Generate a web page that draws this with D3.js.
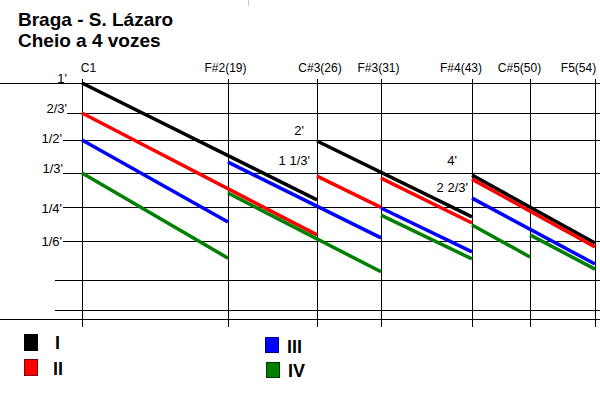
<!DOCTYPE html>
<html>
<head>
<meta charset="utf-8">
<script src="https://cdn.jsdelivr.net/npm/d3@7"></script>
<style>
  html, body { margin: 0; padding: 0; background: #fff; }
  svg { display: block; font-family: "Liberation Sans", Arial, sans-serif; }
</style>
</head>
<body>
<svg id="chart" width="600" height="400"></svg>
<script>
// ---------------- DATA ----------------
const titleLines = ["Braga - S. Lázaro", "Cheio a 4 vozes"];

// breakpoints (note numbers) and their labels
const breakNotes = [1, 19, 26, 31, 43, 50, 54];
const breakLabels = ["C1", "F#2(19)", "C#3(26)", "F#3(31)", "F#4(43)", "C#5(50)", "F5(54)"];

// pitch rows (level index 0..7) and their labels
const rowLevels = [0, 1, 2, 3, 4, 5, 6, 7];
const rowLabels = ["1'", "2/3'", "1/2'", "1/3'", "1/4'", "1/6'", "", ""];

// ranks: each segment = [startNote, endNote, startLevel, endLevel]
const rankNames = ["I", "II", "III", "IV"];
const rankI = [[1, 26, 0, 3.79], [26, 43, 2.03, 4.29], [43, 54, 3.06, 5.05]];
const rankII = [[1, 26, 1, 4.82], [26, 31, 3.09, 4.01], [31, 43, 3.15, 4.47], [43, 54, 3.18, 5.15]];
const rankIII = [[1, 19, 2, 4.44], [19, 31, 2.67, 4.91], [31, 43, 4.03, 5.28], [43, 54, 3.74, 5.59]];
const rankIV = [[1, 19, 3, 5.44], [19, 31, 3.59, 5.79], [31, 43, 4.24, 5.46], [43, 50, 4.53, 5.41], [50, 54, 4.82, 5.72]];

// footage annotations at breaks
const footLabels = ["2'", "1 1/3'", "4'", "2 2/3'"];
const footNotes = [26, 26, 43, 43];

// ---------------- LAYOUT ----------------
const rankColors = ["#000000", "#ff0000", "#0000ff", "#008000"];
const rankStroke = ["#000000", "#800000", "#000080", "#003300"];
const svg = d3.select("#chart");

const x = d3.scaleLinear().domain(breakNotes).range([82, 228, 317, 381, 472, 530, 595]);
const y = d3.scaleLinear().domain(rowLevels).range([83, 113, 140, 173, 207, 241, 280, 310]);

// title
svg.append("g").selectAll("text").data(titleLines).join("text")
  .attr("x", 18).attr("y", (d, i) => 26 + i * 21)
  .attr("font-size", 19).attr("font-weight", "bold").attr("fill", "#000")
  .text(d => d);

// tiny grey mark at top
svg.append("line").attr("x1", 248.5).attr("x2", 248.5).attr("y1", 0).attr("y2", 6)
  .attr("stroke", "#c8c8c8").attr("stroke-width", 1);

// horizontal grid rows
const rowStart = [0, 67, 63, 63, 63, 63, 55, 55];
svg.append("g").selectAll("line").data(rowLevels).join("line")
  .attr("x1", (d, i) => rowStart[i]).attr("x2", 600)
  .attr("y1", d => Math.round(y(d)) + 0.5).attr("y2", d => Math.round(y(d)) + 0.5)
  .attr("stroke", "#000").attr("stroke-width", 1);
// baseline
svg.append("line").attr("x1", 0).attr("x2", 600).attr("y1", 319.5).attr("y2", 319.5)
  .attr("stroke", "#000").attr("stroke-width", 1);

// vertical grid at breakpoints
svg.append("g").selectAll("line").data(breakNotes).join("line")
  .attr("x1", d => Math.round(x(d)) + 0.5).attr("x2", d => Math.round(x(d)) + 0.5)
  .attr("y1", 79).attr("y2", 327)
  .attr("stroke", "#000").attr("stroke-width", 1);

// column labels
const colDx = [6.5, -2.5, 3, -2.5, -11, -10.5, -16.5];
svg.append("g").selectAll("text").data(breakNotes).join("text")
  .attr("x", (d, i) => x(d) + colDx[i]).attr("y", 72)
  .attr("text-anchor", "middle").attr("font-size", 12).attr("fill", "#000")
  .text((d, i) => breakLabels[i]);

// row labels
const rowDy = [0, 0, 3, 0, 6, 5, 0, 0];
const rowRight = [67, 67, 62, 63, 62, 62, 62, 62];
svg.append("g").selectAll("text").data(rowLevels).join("text")
  .attr("x", (d, i) => rowRight[i]).attr("y", (d, i) => y(d) + rowDy[i])
  .attr("text-anchor", "end").attr("font-size", 13).attr("fill", "#000")
  .text((d, i) => rowLabels[i]);

// rank lines
const ranks = [rankI, rankII, rankIII, rankIV];
const line = d3.line().x(p => x(p[0])).y(p => y(p[1]));
ranks.forEach((segs, r) => {
  svg.append("g").selectAll("path").data(segs).join("path")
    .attr("d", s => line([[s[0], s[2]], [s[1], s[3]]]))
    .attr("fill", "none").attr("stroke", rankColors[r])
    .attr("stroke-width", 3.5).attr("stroke-linecap", "butt");
});

// footage annotations
const footDx = [-13, -7, -15, -4];
const footY = [135, 165, 165, 192];
svg.append("g").selectAll("text").data(footLabels).join("text")
  .attr("x", (d, i) => x(footNotes[i]) + footDx[i]).attr("y", (d, i) => footY[i])
  .attr("text-anchor", "end").attr("font-size", 13).attr("fill", "#000")
  .text(d => d);

// legend
const legPos = [[24, 334, 17, 55, 349], [24, 359, 17, 53, 375], [265, 337, 16, 287, 353], [266, 362, 16, 288, 377]];
const leg = svg.append("g");
rankNames.forEach((name, i) => {
  const p = legPos[i];
  leg.append("rect").attr("x", p[0] + 0.5).attr("y", p[1] + 0.5).attr("width", 13).attr("height", p[2] - 1)
    .attr("fill", rankColors[i]).attr("stroke", rankStroke[i]).attr("stroke-width", 1);
  leg.append("text").attr("x", p[3]).attr("y", p[4])
    .attr("font-size", 18).attr("font-weight", "bold").attr("fill", "#000").text(name);
});
</script>
</body>
</html>
